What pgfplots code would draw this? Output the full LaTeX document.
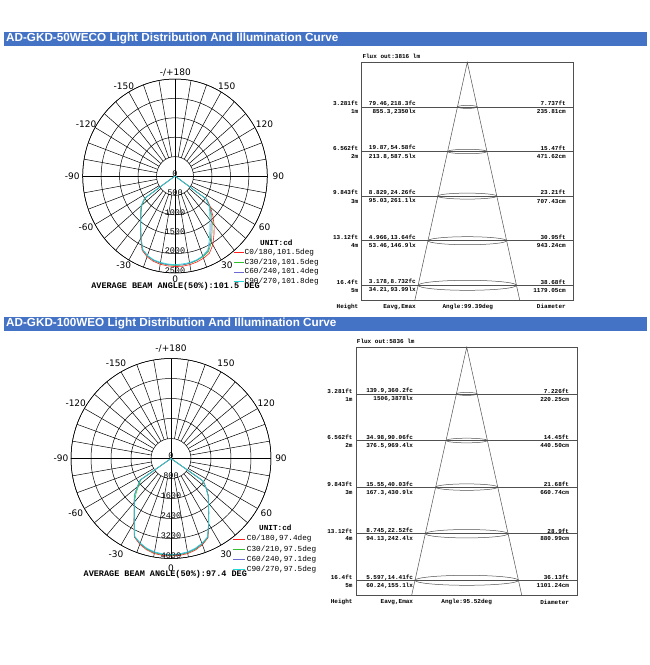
\documentclass[border=0pt]{standalone}
\usepackage{pgfplots}
\pgfplotsset{compat=1.18}
\usepackage{pgfplotstable}
\usepgfplotslibrary{polar}
\usepackage{fontspec}
\setmainfont{Liberation Sans}
\newfontfamily\dvs{DejaVu Sans}
\newfontfamily\cour{Liberation Mono}

\definecolor{hdrblue}{HTML}{4472C4}
\definecolor{cZero}{HTML}{FF2020}
\definecolor{cThirty}{HTML}{30C030}
\definecolor{cSixty}{HTML}{6A6AD0}
\definecolor{cNinety}{HTML}{20D8D8}
\definecolor{conegray}{HTML}{505050}

% polar data: g = gamma (deg, C180/C270 side negative), I = cd
\pgfplotstableread{
g I
-90 0
-60 0
-55 1000
-50 1190
-45 1305
-40 1450
-35 1630
-30 1860
-25 2110
-20 2215
-15 2275
-10 2310
-5 2325
0 2335
5 2335
10 2320
15 2295
20 2255
25 2200
30 2050
35 1840
40 1650
45 1450
50 1260
55 1060
60 0
90 0
}\aZero
\pgfplotstableread{
g I
-90 0
-60 0
-55 980
-50 1170
-45 1300
-40 1440
-35 1620
-30 1840
-25 2090
-20 2190
-15 2250
-10 2285
-5 2300
0 2305
5 2305
10 2290
15 2260
20 2215
25 2150
30 1970
35 1750
40 1570
45 1400
50 1230
55 1040
60 0
90 0
}\aThirty
\pgfplotstableread{
g I
-90 0
-60 0
-55 1005
-50 1195
-45 1310
-40 1445
-35 1620
-30 1835
-25 2085
-20 2185
-15 2245
-10 2275
-5 2290
0 2295
5 2300
10 2280
15 2250
20 2200
25 2120
30 1920
35 1700
40 1520
45 1370
50 1220
55 1030
60 0
90 0
}\aSixty
\pgfplotstableread{
g I
-90 0
-60 0
-55 1010
-50 1200
-45 1315
-40 1450
-35 1620
-30 1830
-25 2080
-20 2180
-15 2235
-10 2260
-5 2275
0 2285
5 2275
10 2265
15 2240
20 2195
25 2100
30 1870
35 1650
40 1470
45 1330
50 1210
55 1020
60 0
90 0
}\aNinety

\pgfplotstableread{
g I
-90 0
-60 0
-55 1500
-50 1750
-45 2070
-40 2290
-35 2570
-30 2960
-25 3470
-20 3650
-15 3780
-10 3860
-5 3890
0 3900
5 3895
10 3860
15 3790
20 3670
25 3500
30 3020
35 2640
40 2340
45 2110
50 1830
55 1540
60 0
90 0
}\bZero
\pgfplotstableread{
g I
-90 0
-60 0
-55 1470
-50 1690
-45 1980
-40 2280
-35 2560
-30 2950
-25 3450
-20 3620
-15 3750
-10 3830
-5 3865
0 3870
5 3865
10 3830
15 3760
20 3640
25 3480
30 3010
35 2630
40 2330
45 2100
50 1820
55 1550
60 0
90 0
}\bThirty
\pgfplotstableread{
g I
-90 0
-60 0
-55 1510
-50 1750
-45 2070
-40 2285
-35 2555
-30 2940
-25 3440
-20 3610
-15 3735
-10 3810
-5 3845
0 3855
5 3850
10 3810
15 3740
20 3625
25 3470
30 3010
35 2630
40 2340
45 2110
50 1840
55 1590
60 0
90 0
}\bSixty
\pgfplotstableread{
g I
-90 0
-60 0
-55 1520
-50 1760
-45 2080
-40 2290
-35 2560
-30 2940
-25 3440
-20 3600
-15 3720
-10 3790
-5 3830
0 3840
5 3830
10 3790
15 3720
20 3610
25 3460
30 3000
35 2620
40 2330
45 2100
50 1820
55 1560
60 0
90 0
}\bNinety

\newcommand\hdrfont{\fontsize{11.7}{13}\selectfont\bfseries}
\newcommand\angfont{\dvs\fontsize{9}{10}\selectfont}
\newcommand\ringfont{\cour\fontsize{8.5}{9}\selectfont}
\newcommand\legfont{\cour\fontsize{7.7}{8}\selectfont}
\newcommand\conefont{\cour\bfseries\fontsize{6}{7}\selectfont}
% angle label inside a polar axis: angle, radius, text
\newcommand\alab[3]{\node[font=\angfont, inner sep=0pt] at (axis cs:#1,#2) {#3};}

\pgfplotsset{
  lumpolar/.style={
    anchor=center, scale only axis,
    xtick={0,90,180,270}, xticklabels={},
    yticklabels={}, ymin=0,
    ymajorgrids, grid style={black, line width=0.5pt},
    major tick length=0pt,
    axis line style={black, line width=0.5pt},
    clip=false,
  },
  conebox/.style={
    anchor=north west, scale only axis,
    xtick=\empty, ytick=\empty,
    axis line style={conegray, line width=0.5pt},
    clip=false,
  },
  curve/.style={line width=0.6pt},
}

\begin{document}
\begin{tikzpicture}[x=1pt,y=-1pt]
\path[use as bounding box] (0,0) rectangle (650,665);

% ---------- headers
\fill[hdrblue] (4,32) rectangle (647,45.5);
\node[anchor=west, text=white, font=\hdrfont, inner sep=0pt] at (6,38.6)
  {AD-GKD-50WECO Light Distribution And Illumination Curve};
\fill[hdrblue] (4,317) rectangle (647,330.5);
\node[anchor=west, text=white, font=\hdrfont, inner sep=0pt] at (6,323.6)
  {AD-GKD-100WEO Light Distribution And Illumination Curve};

% ---------- polar chart 1
\begin{polaraxis}[lumpolar,
  at={(175pt,-176pt)}, width=184.6pt, height=194pt,
  ymax=2500, ytick={500,1000,1500,2000,2500},
]
\pgfplotsinvokeforeach{0,10,...,350}{\draw[black, line width=0.5pt] (axis cs:#1,500) -- (axis cs:#1,2500);}
\draw[black, line width=0.5pt] (axis cs:0,2500) -- (axis cs:180,2500);
\draw[black, line width=0.5pt] (axis cs:90,2500) -- (axis cs:270,2500);
\addplot[curve, cZero] table[x expr=270+\thisrow{g}, y=I] {\aZero};
\addplot[curve, cThirty] table[x expr=270+\thisrow{g}, y=I] {\aThirty};
\addplot[curve, cSixty] table[x expr=270+\thisrow{g}, y=I] {\aSixty};
\addplot[curve, cNinety] table[x expr=270+\thisrow{g}, y=I] {\aNinety};
\pgfplotsinvokeforeach{0,500,1000,1500,2000,2500}
  {\node[font=\ringfont, inner sep=0pt, yshift=2.5pt] at (axis cs:270,#1) {#1};}
\end{polaraxis}
% angle labels of chart 1, on a circle round its centre
\foreach \a/\t in {270/0, 300/30, 330/60, 0/90, 30/120, 60/150, 90/{-/+180}, 120/-150, 150/-120, 180/-90, 210/-60, 240/-30}
  {\node[font=\angfont, inner sep=0pt] at ({175.3+103*cos(\a)},{175.8-103*sin(\a)}) {\t};}

% legend 1
\node[anchor=west, font=\legfont\bfseries, inner sep=0pt] at (260,242.3) {UNIT:cd};
\foreach \y/\c/\t in {252.3/cZero/{C0/180,101.5deg}, 262.3/cThirty/{C30/210,101.5deg}, 272/cSixty/{C60/240,101.4deg}, 281.7/cNinety/{C90/270,101.8deg}}
  {\draw[\c, line width=0.6pt] (234.3,\y) -- (243.5,\y);
   \node[anchor=west, font=\legfont, inner sep=0pt] at (244.5,\y) {\t};}
\node[font=\cour\bfseries\fontsize{8.5}{9}\selectfont, inner sep=0pt] at (175.5,285.8)
  {AVERAGE BEAM ANGLE(50\%):101.5 DEG};

% ---------- cone 1
\begin{axis}[conebox,
  at={(361.7pt,-62.3pt)}, width=211.6pt, height=238.4pt,
  xmin=-2.368, xmax=2.377, ymin=-5.345, ymax=0,
]
\addplot[conegray, line width=0.5pt] coordinates {(-1.1786,-5.345) (0,0) (1.1786,-5.345)};
\addplot[conegray, line width=0.5pt] coordinates {(-2.368,-1) (2.377,-1)};
\addplot[conegray, line width=0.5pt] coordinates {(-2.368,-2) (2.377,-2)};
\addplot[conegray, line width=0.5pt] coordinates {(-2.368,-3) (2.377,-3)};
\addplot[conegray, line width=0.5pt] coordinates {(-2.368,-4) (2.377,-4)};
\addplot[conegray, line width=0.5pt] coordinates {(-2.368,-5) (2.377,-5)};
\draw[conegray, line width=0.5pt] (axis cs:0,-1) ellipse [x radius=0.2205, y radius=0.034];
\draw[conegray, line width=0.5pt] (axis cs:0,-2) ellipse [x radius=0.441, y radius=0.05];
\draw[conegray, line width=0.5pt] (axis cs:0,-3) ellipse [x radius=0.6615, y radius=0.067];
\draw[conegray, line width=0.5pt] (axis cs:0,-4) ellipse [x radius=0.882, y radius=0.09];
\draw[conegray, line width=0.5pt] (axis cs:0,-5) ellipse [x radius=1.1025, y radius=0.112];
\end{axis}
\node[anchor=west, font=\conefont, inner sep=0pt] at (362.3,56.7) {Flux out:3816 lm};
\foreach \L/\a/\b/\c/\d/\e/\f in {
 106.9/3.281ft/1m/{79.46,218.3fc}/{855.3,2350lx}/7.737ft/235.81cm,
 151.5/6.562ft/2m/{19.87,54.58fc}/{213.8,587.5lx}/15.47ft/471.62cm,
 196.1/9.843ft/3m/{8.829,24.26fc}/{95.03,261.1lx}/23.21ft/707.43cm,
 240.7/13.12ft/4m/{4.966,13.64fc}/{53.46,146.9lx}/30.95ft/943.24cm,
 285.3/16.4ft/5m/{3.178,8.732fc}/{34.21,93.99lx}/38.68ft/1179.05cm}{
  \node[anchor=east, font=\conefont, inner sep=0pt] at (358.5,\L-3.3) {\a};
  \node[anchor=east, font=\conefont, inner sep=0pt] at (358.5,\L+5) {\b};
  \node[anchor=east, font=\conefont, inner sep=0pt] at (416,\L-3.3) {\c};
  \node[anchor=east, font=\conefont, inner sep=0pt] at (416,\L+5) {\d};
  \node[anchor=east, font=\conefont, inner sep=0pt] at (566,\L-3.3) {\e};
  \node[anchor=east, font=\conefont, inner sep=0pt] at (566,\L+5) {\f};
}
\node[anchor=east, font=\conefont, inner sep=0pt] at (358.5,306.7) {Height};
\node[anchor=east, font=\conefont, inner sep=0pt] at (416,306.7) {Eavg,Emax};
\node[font=\conefont, inner sep=0pt] at (467.8,306.7) {Angle:99.39deg};
\node[anchor=east, font=\conefont, inner sep=0pt] at (566,306.7) {Diameter};

% ---------- polar chart 2
\begin{polaraxis}[lumpolar,
  at={(171pt,-458.5pt)}, width=200pt, height=200pt,
  ymax=4000, ytick={800,1600,2400,3200,4000},
]
\pgfplotsinvokeforeach{0,10,...,350}{\draw[black, line width=0.5pt] (axis cs:#1,800) -- (axis cs:#1,4000);}
\draw[black, line width=0.5pt] (axis cs:0,4000) -- (axis cs:180,4000);
\draw[black, line width=0.5pt] (axis cs:90,4000) -- (axis cs:270,4000);
\addplot[curve, cZero] table[x expr=270+\thisrow{g}, y=I] {\bZero};
\addplot[curve, cThirty] table[x expr=270+\thisrow{g}, y=I] {\bThirty};
\addplot[curve, cSixty] table[x expr=270+\thisrow{g}, y=I] {\bSixty};
\addplot[curve, cNinety] table[x expr=270+\thisrow{g}, y=I] {\bNinety};
\alab{270}{4400}{0}\alab{300}{4400}{30}\alab{330}{4400}{60}\alab{0}{4400}{90}
\alab{30}{4400}{120}\alab{60}{4400}{150}\alab{90}{4400}{-/+180}\alab{120}{4400}{-150}
\alab{150}{4400}{-120}\alab{180}{4400}{-90}\alab{210}{4400}{-60}\alab{240}{4400}{-30}
\pgfplotsinvokeforeach{0,800,1600,2400,3200,4000}
  {\node[font=\ringfont, inner sep=0pt, yshift=3pt] at (axis cs:270,#1) {#1};}
\end{polaraxis}

% legend 2
\node[anchor=west, font=\legfont\bfseries, inner sep=0pt] at (259,527.7) {UNIT:cd};
\foreach \y/\c/\t in {539/cZero/{C0/180,97.4deg}, 549.3/cThirty/{C30/210,97.5deg}, 559.7/cSixty/{C60/240,97.1deg}, 569.7/cNinety/{C90/270,97.5deg}}
  {\draw[\c, line width=0.6pt] (233.3,\y) -- (245,\y);
   \node[anchor=west, font=\legfont, inner sep=0pt] at (246.7,\y) {\t};}
\node[font=\cour\bfseries\fontsize{8.5}{9}\selectfont, inner sep=0pt] at (165.3,574)
  {AVERAGE BEAM ANGLE(50\%):97.4 DEG};

% ---------- cone 2
\begin{axis}[conebox,
  at={(356.7pt,-347.3pt)}, width=220.6pt, height=247.7pt,
  xmin=-2.361, xmax=2.373, ymin=-5.315, ymax=0,
]
\addplot[conegray, line width=0.5pt] coordinates {(-1.18,-5.315) (0,0) (1.18,-5.315)};
\addplot[conegray, line width=0.5pt] coordinates {(-2.361,-1) (2.373,-1)};
\addplot[conegray, line width=0.5pt] coordinates {(-2.361,-2) (2.373,-2)};
\addplot[conegray, line width=0.5pt] coordinates {(-2.361,-3) (2.373,-3)};
\addplot[conegray, line width=0.5pt] coordinates {(-2.361,-4) (2.373,-4)};
\addplot[conegray, line width=0.5pt] coordinates {(-2.361,-5) (2.373,-5)};
\draw[conegray, line width=0.5pt] (axis cs:0,-1) ellipse [x radius=0.222, y radius=0.032];
\draw[conegray, line width=0.5pt] (axis cs:0,-2) ellipse [x radius=0.444, y radius=0.05];
\draw[conegray, line width=0.5pt] (axis cs:0,-3) ellipse [x radius=0.666, y radius=0.069];
\draw[conegray, line width=0.5pt] (axis cs:0,-4) ellipse [x radius=0.888, y radius=0.09];
\draw[conegray, line width=0.5pt] (axis cs:0,-5) ellipse [x radius=1.11, y radius=0.107];
\end{axis}
\node[anchor=west, font=\conefont, inner sep=0pt] at (356.7,341.7) {Flux out:5836 lm};
\foreach \L/\a/\b/\c/\d/\e/\f in {
 393.9/3.281ft/1m/{139.9,360.2fc}/{1506,3878lx}/7.226ft/220.25cm,
 440.5/6.562ft/2m/{34.98,90.06fc}/{376.5,969.4lx}/14.45ft/440.50cm,
 487.1/9.843ft/3m/{15.55,40.03fc}/{167.3,430.9lx}/21.68ft/660.74cm,
 533.7/13.12ft/4m/{8.745,22.52fc}/{94.13,242.4lx}/28.9ft/880.99cm,
 580.3/16.4ft/5m/{5.597,14.41fc}/{60.24,155.1lx}/36.13ft/1101.24cm}{
  \node[anchor=east, font=\conefont, inner sep=0pt] at (352.7,\L-2.7) {\a};
  \node[anchor=east, font=\conefont, inner sep=0pt] at (352.7,\L+5.3) {\b};
  \node[anchor=east, font=\conefont, inner sep=0pt] at (413.3,\L-2.7) {\c};
  \node[anchor=east, font=\conefont, inner sep=0pt] at (413.3,\L+5.3) {\d};
  \node[anchor=east, font=\conefont, inner sep=0pt] at (569.3,\L-2.7) {\e};
  \node[anchor=east, font=\conefont, inner sep=0pt] at (569.3,\L+5.3) {\f};
}
\node[anchor=east, font=\conefont, inner sep=0pt] at (352.7,602.3) {Height};
\node[anchor=east, font=\conefont, inner sep=0pt] at (413.3,602.3) {Eavg,Emax};
\node[font=\conefont, inner sep=0pt] at (466.7,602.3) {Angle:95.52deg};
\node[anchor=east, font=\conefont, inner sep=0pt] at (569.3,602.3) {Diameter};
\end{tikzpicture}
\end{document}
